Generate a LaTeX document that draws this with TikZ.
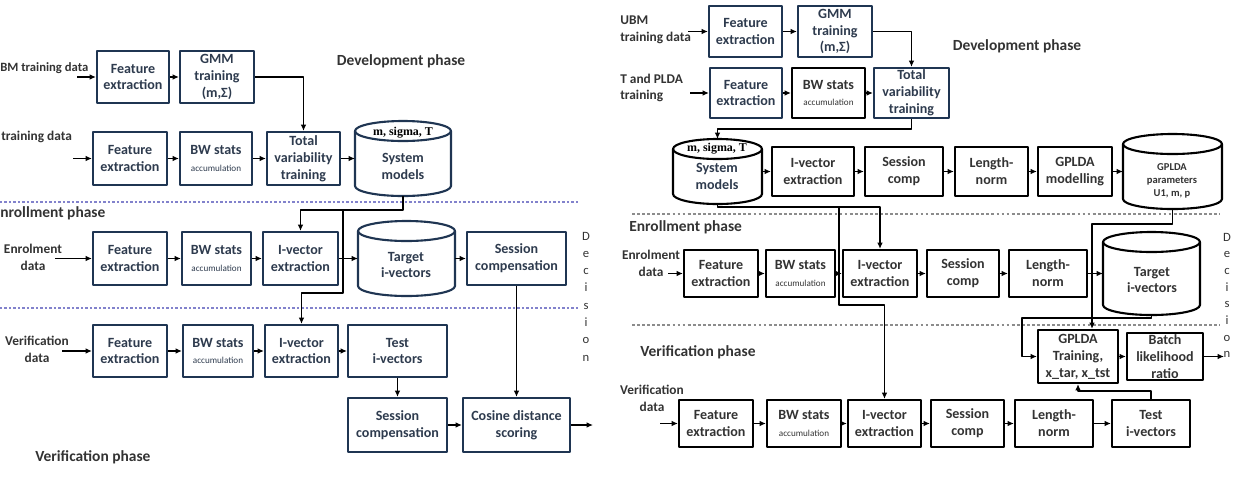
\documentclass[tikz,border=0pt]{standalone}
\usepackage{fontspec}
\setmainfont{Carlito}
\newfontfamily\serifm{Liberation Serif}
\usepackage{xcolor}
\usepackage{tikz}
\usetikzlibrary{arrows.meta}
\definecolor{navy}{HTML}{1F3552}
\definecolor{inkL}{HTML}{2E3B4E}
\definecolor{inkR}{HTML}{333333}
\definecolor{dashL}{HTML}{8282CC}
\definecolor{dashR}{HTML}{8C8C8C}
\tikzstyle{block} = [draw=navy, line width=1.5pt, align=center, inner sep=1pt, text=inkL, font=\bfseries\fontsize{10}{12}\selectfont]
\tikzstyle{blockR} = [block, draw=black, text=inkR]
\tikzstyle{dbline} = [draw=navy, line width=1.5pt]
\tikzstyle{dblineR} = [draw=black, line width=1.5pt]
\tikzstyle{dbtext} = [align=center, inner sep=0pt, text=inkL, font=\bfseries\fontsize{10}{12}\selectfont]
\tikzstyle{link} = [line width=0.9pt, -{Latex[length=4.5pt,width=4pt]}]
\tikzstyle{feed} = [align=center, inner sep=0pt, text=inkR, font=\bfseries\fontsize{9.5}{12}\selectfont]
\tikzstyle{phase} = [inner sep=0pt, text=inkR, font=\bfseries\fontsize{11}{13}\selectfont]
\tikzstyle{sepL} = [draw=dashL, line width=0.8pt, dash pattern=on 1.6pt off 1.6pt]
\tikzstyle{sepR} = [draw=dashR, line width=0.8pt, dash pattern=on 2pt off 1.6pt]
\tikzstyle{vword} = [align=center, inner sep=0pt, text=inkR]
\newcommand{\acc}{{\mdseries\fontsize{6.5}{7}\selectfont accumulation}}
% box from its corners (pixels): name, style, x1, y1, x2, y2, text
\newcommand{\stage}[7]{\node[#2, minimum width={(#5-#3)*0.025cm}, minimum height={(#6-#4)*0.025cm}] (#1) at ({(#3+#5)/2},{(#4+#6)/2}) {#7};}
% data base drum: name, x1, y1, x2, y2, line style
\newcommand{\dbase}[6]{%
  \node[minimum width={(#4-#2)*0.025cm}, minimum height={(#5-#3)*0.025cm}, inner sep=0pt, outer sep=0pt] (#1) at ({(#2+#4)/2},{(#3+#5)/2}) {};
  \draw[#6] ({(#2+#4)/2},{#3+10}) ellipse [x radius={(#4-#2)*0.0125cm}, y radius=0.25cm];
  \draw[#6] (#2,{#3+10}) -- (#2,{#5-10}) arc [start angle=180, end angle=360, x radius={(#4-#2)*0.0125cm}, y radius=0.25cm] -- (#4,{#3+10});}

\begin{document}
\begin{tikzpicture}[x=0.025cm,y=-0.025cm,line join=round]
\useasboundingbox (0,0) rectangle (1233,489);

% ---------------- left scheme ----------------
\node[phase] (devL) at (401,61) {Development phase};
\node[phase, anchor=west] (enrL) at (0,213) {nrollment phase};
\node[phase, anchor=west] (verL) at (35,457) {Verification phase};
\draw[sepL] (0,202) -- (578,202);
\draw[sepL] (0,308) -- (578,308);

\node[feed, anchor=west, font=\bfseries\fontsize{9}{11}\selectfont] (ubmL) at (0,68) {BM training data};
\node[feed, anchor=west] (trnL) at (1,137) {training data};
\node[feed] (enrdL) at (33,257) {Enrolment\\data};
\node[feed] (verdL) at (37,349) {Verification\\data};
\node[vword, font=\fontsize{9}{12.3}\selectfont] (decL) at (586,296.5) {D\\e\\c\\i\\s\\i\\o\\n};

\stage{fea1}{block}{97}{51}{169}{103}{Feature\\extraction}
\stage{gmm1}{block}{180}{51}{254}{103}{GMM\\training\\(m,Σ)}
\stage{fea2}{block}{93}{132}{167}{185}{Feature\\extraction}
\stage{bw2}{block}{180}{132}{252}{185}{BW stats\\\acc}
\stage{tv2}{block}{267}{132}{340}{185}{Total\\variability\\training}
\dbase{sm2}{355}{121}{451}{196}{dbline}
\node[font=\serifm\bfseries\fontsize{8.5}{10}\selectfont, inner sep=0pt] (smtL) at (403,133) {m, sigma, T};
\node[dbtext] (smbL) at (403,166) {System\\models};
\stage{fea3}{block}{93}{232}{167}{285}{Feature\\extraction}
\stage{bw3}{block}{182}{232}{251}{285}{BW stats\\\acc}
\stage{iv3}{block}{263}{232}{338}{285}{I-vector\\extraction}
\dbase{tg3}{358}{221}{455}{296}{dbline}
\node[dbtext] (tgtL) at (406,265) {Target\\i-vectors};
\stage{sc3}{block}{467}{232}{566}{285}{Session\\compensation}
\stage{fea4}{block}{93}{325}{167}{377}{Feature\\extraction}
\stage{bw4}{block}{183}{325}{253}{377}{BW stats\\\acc}
\stage{iv4}{block}{265}{325}{338}{377}{I-vector\\extraction}
\stage{ti4}{block}{348}{325}{447}{377}{Test\\i-vectors}
\stage{sc5}{block}{348}{398}{447}{452}{Session\\compensation}
\stage{cd5}{block}{463}{398}{570}{452}{Cosine distance\\scoring}

\coordinate (inL1) at (77,77);
\coordinate (inL2) at (73,158.5);
\coordinate (inL3) at (55,258.5);
\coordinate (inL4) at (62,351);
\coordinate (outL) at (593,425);
\coordinate (jL1) at (343,210);
\coordinate (jL2) at (343,293);
\draw[link] (inL1) -- (fea1);
\draw[link] (fea1) -- (gmm1);
\draw[link] (gmm1.east) -| (tv2.north);
\draw[link] (inL2) -- (fea2);
\draw[link] (fea2) -- (bw2);
\draw[link] (bw2) -- (tv2);
\draw[link] (tv2) -- (sm2);
\draw[link] (sm2.south) |- (jL1) -| (iv3.north);
\draw[link] (jL1) -- (jL2) -| (iv4.north);
\draw[link] (inL3) -- (fea3);
\draw[link] (fea3) -- (bw3);
\draw[link] (bw3) -- (iv3);
\draw[link] (iv3) -- (tg3);
\draw[link] (tg3) -- (sc3);
\draw[link] (sc3) -- (cd5);
\draw[link] (inL4) -- (fea4);
\draw[link] (fea4) -- (bw4);
\draw[link] (bw4) -- (iv4);
\draw[link] (iv4) -- (ti4);
\draw[link] (ti4) -- (sc5);
\draw[link] (sc5) -- (cd5);
\draw[link] (cd5) -- (outL);

% ---------------- right scheme ----------------
\node[phase] (devR) at (1017,46) {Development phase};
\node[phase, anchor=west] (enrR) at (629,227) {Enrollment phase};
\node[phase, anchor=west] (verR) at (640,352) {Verification phase};
\draw[sepR] (632,214) -- (1220,214);
\draw[sepR] (632,325) -- (1220,325);

\node[feed, align=left, anchor=west] (ubmR) at (620,29.5) {UBM\\training data};
\node[feed, align=left, anchor=west] (trnR) at (620,88) {T and PLDA\\training};
\node[feed] (enrdR) at (651,263.5) {Enrolment\\data};
\node[feed] (verdR) at (652,398.5) {Verification\\data};
\node[vword, font=\fontsize{9}{11.85}\selectfont] (decR) at (1227,295.5) {D\\e\\c\\i\\s\\i\\o\\n};

\stage{feaR1}{block}{709}{6}{782}{57}{Feature\\extraction}
\stage{gmmR1}{block}{798}{6}{872}{57}{GMM\\training\\(m,Σ)}
\stage{feaR2}{block}{710}{68}{782}{118}{Feature\\extraction}
\stage{bwR2}{blockR}{792}{68}{865}{118}{BW stats\\\acc}
\stage{tvR2}{block}{874}{68}{949}{118}{Total\\variability\\training}
\dbase{smR3}{673}{139}{762}{204}{dblineR}
\node[font=\serifm\bfseries\fontsize{8.5}{10}\selectfont, inner sep=0pt] (smtR) at (717,149) {m, sigma, T};
\node[dbtext] (smbR) at (717,176) {System\\models};
\stage{ivR3}{blockR}{772}{147}{854}{196}{I-vector\\extraction}
\stage{scR3}{blockR}{865}{147}{943}{196}{Session\\comp}
\stage{lnR3}{blockR}{955}{147}{1028}{196}{Length-\\norm}
\stage{gmR3}{blockR}{1038}{147}{1112}{196}{GPLDA\\modelling}
\dbase{gpR3}{1123}{134}{1222}{209}{dblineR}
\node[dbtext, text=inkR, font=\bfseries\fontsize{7.5}{9.3}\selectfont] (gptR) at (1172,181) {GPLDA\\parameters\\U1, m, p};
\stage{feaR4}{blockR}{684}{250}{758}{297}{Feature\\extraction}
\stage{bwR4}{blockR}{766}{250}{835}{297}{BW stats\\\acc}
\stage{ivR4}{blockR}{843}{250}{917}{297}{I-vector\\extraction}
\stage{scR4}{blockR}{927}{250}{999}{297}{Session\\comp}
\stage{lnR4}{blockR}{1009}{250}{1087}{297}{Length-\\norm}
\dbase{tgR4}{1103}{232}{1200}{315}{dblineR}
\node[dbtext, text=inkR] (tgtR) at (1152,280) {Target\\i-vectors};
\stage{gtR5}{blockR}{1038}{330}{1118}{383}{GPLDA\\Training,\\x\_tar, x\_tst}
\stage{blR5}{blockR}{1127}{334}{1203}{379}{Batch\\likelihood\\ratio}
\stage{feaR6}{blockR}{679}{400}{753}{447}{Feature\\extraction}
\stage{bwR6}{blockR}{767}{400}{841}{447}{BW stats\\\acc}
\stage{ivR6}{blockR}{848}{400}{921}{447}{I-vector\\extraction}
\stage{scR6}{blockR}{931}{400}{1004}{447}{Session\\comp}
\stage{lnR6}{blockR}{1015}{400}{1093}{447}{Length-\\norm}
\stage{tiR6}{blockR}{1112}{400}{1190}{447}{Test\\i-vectors}

\coordinate (inR1) at (688,31.5);
\coordinate (inR2) at (690,93);
\coordinate (inR4) at (668,273.5);
\coordinate (inR6) at (660,423.5);
\coordinate (outR) at (1224,356.5);
\coordinate (jR1) at (839,207);
\coordinate (jR2) at (839,305);
\coordinate (jR3) at (1092,224);
\coordinate (jR4) at (1022,318);
\draw[link] (inR1) -- (feaR1);
\draw[link] (feaR1) -- (gmmR1);
\draw[link] (gmmR1.east) -| (tvR2.north);
\draw[link] (inR2) -- (feaR2);
\draw[link] (feaR2) -- (bwR2);
\draw[link] (bwR2) -- (tvR2);
\draw[link] (tvR2.south) -- ++(0,10) -| (smR3.north);
\draw[link] (smR3) -- (ivR3);
\draw[link] (ivR3) -- (scR3);
\draw[link] (scR3) -- (lnR3);
\draw[link] (lnR3) -- (gmR3);
\draw[link] (gmR3) -- (gpR3);
\draw[link] (smR3.south) |- (jR1) -| (ivR4.north);
\draw[link] (jR1) -- (jR2) -| (ivR6.north);
\draw[link] (gpR3.south) |- (jR3) -- (jR3 |- gtR5.north);
\draw[link] (inR4) -- (feaR4);
\draw[link] (feaR4) -- (bwR4);
\draw[link] (bwR4) -- (ivR4);
\draw[link] (ivR4) -- (scR4);
\draw[link] (scR4) -- (lnR4);
\draw[link] (lnR4) -- (tgR4);
\draw[link] (tgR4.south) |- (jR4) |- (gtR5.west);
\draw[link] (gtR5) -- (blR5);
\draw[link] (blR5) -- (outR);
\draw[link] (tiR6.north) -- ++(0,-8) -| (gtR5.south);
\draw[link] (inR6) -- (feaR6);
\draw[link] (feaR6) -- (bwR6);
\draw[link] (bwR6) -- (ivR6);
\draw[link] (ivR6) -- (scR6);
\draw[link] (scR6) -- (lnR6);
\draw[link] (lnR6) -- (tiR6);
\end{tikzpicture}
\end{document}
